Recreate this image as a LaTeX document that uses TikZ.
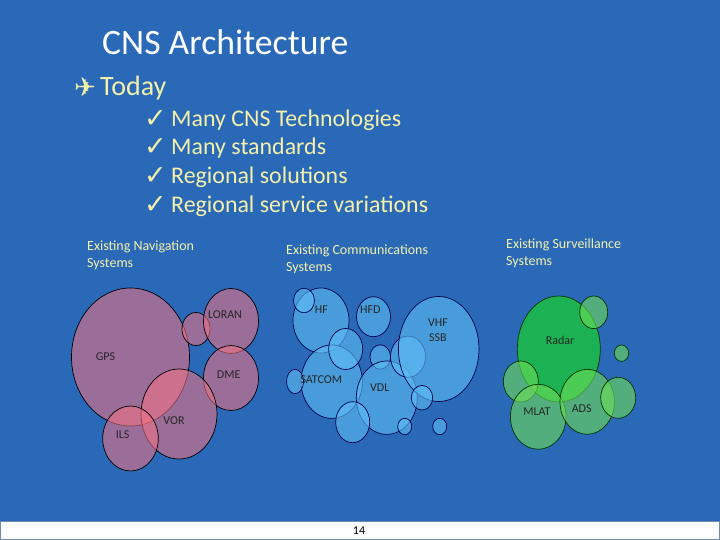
\documentclass[tikz,border=0pt]{standalone}
\usepackage{fontspec}
\setmainfont{Carlito}
\newfontfamily\symbolfont{DejaVu Sans}
\definecolor{slideblue}{RGB}{42,105,184}
\definecolor{paleyellow}{RGB}{245,240,168}
\definecolor{navfill}{RGB}{244,114,132}
\definecolor{commfill}{RGB}{95,190,245}
\definecolor{survfill}{RGB}{109,222,86}
\definecolor{radarfill}{RGB}{28,178,84}
\definecolor{footline}{RGB}{110,140,170}
\tikzset{
    navbubble/.style = {draw = black, line width = 0.7pt, fill = navfill, fill opacity = 0.56},
    commbubble/.style = {draw = black!70!blue, line width = 0.7pt, fill = commfill, fill opacity = 0.6},
    survbubble/.style = {draw = black!80!green, line width = 0.7pt, fill = survfill, fill opacity = 0.6},
    bubblelabel/.style = {font = \fontsize{12}{15.5}\selectfont, text = black!85, align = center, inner sep = 0pt},
    grouptitle/.style = {font = \fontsize{14}{17}\selectfont, text = paleyellow, align = left, anchor = west, inner sep = 0pt},
    bulletline/.style = {font = \fontsize{23.9}{28}\selectfont, text = paleyellow, anchor = west, inner sep = 0pt},
    checkmark/.style = {font = \symbolfont\fontsize{27}{30}\selectfont, text = paleyellow, anchor = west, inner sep = 0pt}
}
\begin{document}
\begin{tikzpicture}[x = 1pt, y = -1pt]
    \useasboundingbox (0,0) rectangle (720,540);
    \fill[slideblue] (0,0) rectangle (720,540);
    \draw[footline, fill = white, line width = 0.8pt] (0.5,521) rectangle (719.5,539.5);
    \node[inner sep = 0pt, font = \fontsize{12}{14}\selectfont, text = black] (pagenum) at (359,531) {14};

    \node[anchor = west, inner sep = 0pt, text = white, font = \fontsize{35.7}{40}\selectfont] (title) at (102,42) {CNS Architecture};
    \node[anchor = west, inner sep = 0pt, text = paleyellow, font = \symbolfont\fontsize{26}{30}\selectfont] (plane) at (74,87) {✈};
    \node[anchor = west, inner sep = 0pt, text = paleyellow, font = \fontsize{28}{32}\selectfont] (today) at (100,88) {Today};
    \node[checkmark] (checka) at (144,119) {✓};
    \node[checkmark] (checkb) at (144,147) {✓};
    \node[checkmark] (checkc) at (144,176) {✓};
    \node[checkmark] (checkd) at (144,205) {✓};
    \node[bulletline] (techline) at (171,120) {Many CNS Technologies};
    \node[bulletline] (stdline) at (171,148) {Many standards};
    \node[bulletline] (regionline) at (171,177) {Regional solutions};
    \node[bulletline] (serviceline) at (171,206) {Regional service variations};

    \node[grouptitle] (navtitle) at (87,255.5) {Existing Navigation\\Systems};
    \node[grouptitle] (commtitle) at (286,259.5) {Existing Communications\\Systems};
    \node[grouptitle] (survtitle) at (506,253) {Existing Surveillance\\Systems};

    % navigation
    \draw[navbubble] (130.5,357) ellipse (59 and 69);
    \draw[navbubble] (196,329) ellipse (14 and 16.5);
    \draw[navbubble] (231,321) ellipse (27.5 and 32.5);
    \draw[navbubble] (231,378) ellipse (27.5 and 32.5);
    \draw[navbubble] (179,414) ellipse (38 and 45);
    \draw[navbubble] (130.5,438.5) ellipse (27.8 and 32.5);

    % communications
    \draw[commbubble] (321,320.5) ellipse (28 and 32.5);
    \draw[commbubble] (304,300.5) ellipse (10.5 and 12.3);
    \draw[commbubble] (373.5,316.7) ellipse (17 and 20);
    \draw[commbubble] (331.7,381.7) ellipse (30.7 and 36.7);
    \draw[commbubble] (345.7,349) ellipse (17 and 20.5);
    \draw[commbubble] (295,381.5) ellipse (8.5 and 12.2);
    \draw[commbubble] (380.3,357) ellipse (10.3 and 12.2);
    \draw[commbubble] (386.8,397.7) ellipse (30.5 and 36.7);
    \draw[commbubble] (408,356.7) ellipse (17.5 and 20.6);
    \draw[commbubble] (438.7,349) ellipse (40.3 and 52.5);
    \draw[commbubble] (422,397.7) ellipse (10.7 and 12.3);
    \draw[commbubble] (352.7,422.2) ellipse (17 and 20.5);
    \draw[commbubble] (404.7,426.5) ellipse (7 and 8.2);
    \draw[commbubble] (439.7,426.5) ellipse (7 and 8.2);

    % surveillance
    \draw[survbubble, fill = radarfill, fill opacity = 1] (558.8,349) ellipse (41.5 and 53);
    \draw[survbubble] (593.7,312.3) ellipse (14 and 16.3);
    \draw[survbubble] (621.5,353.2) ellipse (7.2 and 8.2);
    \draw[survbubble] (520.8,381.5) ellipse (17.5 and 20.5);
    \draw[survbubble] (538.2,416.8) ellipse (27.8 and 32.5);
    \draw[survbubble] (587.2,401.8) ellipse (27.2 and 32.5);
    \draw[survbubble] (618.2,397.8) ellipse (17.5 and 20.5);

    \node[bubblelabel] (gps) at (105.5,357) {GPS};
    \node[bubblelabel] (loran) at (225,315) {LORAN};
    \node[bubblelabel] (dme) at (228.7,375) {DME};
    \node[bubblelabel] (vor) at (174,421) {VOR};
    \node[bubblelabel] (ils) at (122.7,435) {ILS};
    \node[bubblelabel] (hf) at (321.3,310) {HF};
    \node[bubblelabel] (hfd) at (370.3,310) {HFD};
    \node[bubblelabel] (vhf) at (438,330) {VHF\\SSB};
    \node[bubblelabel] (satcom) at (321.3,380) {SATCOM};
    \node[bubblelabel] (vdl) at (379.7,388) {VDL};
    \node[bubblelabel] (radar) at (560,340) {Radar};
    \node[bubblelabel] (mlat) at (537,412) {MLAT};
    \node[bubblelabel] (ads) at (581.7,408.3) {ADS};
\end{tikzpicture}
\end{document}
